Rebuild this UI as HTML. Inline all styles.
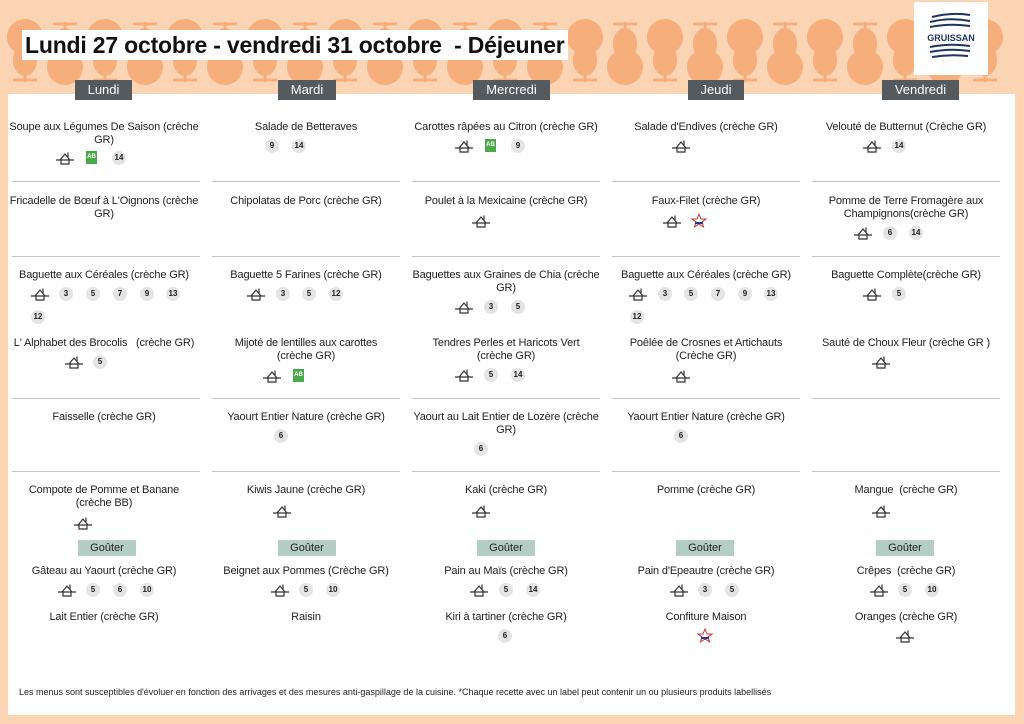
<!DOCTYPE html><html><head><meta charset="utf-8"><style>
body{margin:0;width:1024px;height:724px;background:#fbd4b3;position:relative;overflow:hidden;font-family:"Liberation Sans",sans-serif;color:#222}
.a{position:absolute}
.t{position:absolute;width:190px;margin-left:3px;text-align:center;font-size:11px;line-height:13px;letter-spacing:-0.15px}
.h{position:absolute;background:#555a5e;color:#fff;font-size:13px;text-align:center;height:20px;line-height:20px;top:80px}
.g{position:absolute;background:#b4cdc5;font-size:11px;text-align:center;width:58px;height:16px;line-height:16px;top:540px}
.l{position:absolute;height:1px;background:#c4c4c4;width:188px}
.b{position:absolute;width:14px;height:14px;border-radius:7px;background:#e4e4e4;font-size:8px;font-weight:bold;text-align:center;line-height:14px;margin:-7px 0 0 -7px}
.ab{position:absolute;width:11px;height:13px;background:#4aa84a;color:#fff;font-size:6px;font-weight:bold;text-align:center;line-height:13px;margin:-7px 0 0 -6px}
.hs{position:absolute;margin:-7px 0 0 -9px;width:18px;height:14px}
.lr{position:absolute;margin:-8px 0 0 -8px;width:16px;height:16px}
</style></head><body>
<svg class="a" style="left:0;top:0" width="1024" height="95">
<defs><g id="p"><circle cx="0" cy="15" r="18" fill="#f6ae7c"/><ellipse cx="0" cy="-8" rx="12" ry="16" fill="#f6ae7c"/><path d="M0 -22V-30M-12 -28H12" stroke="#f6ae7c" stroke-width="3"/></g></defs>
<g>
<use href="#p" x="25" y="52" transform="rotate(180 25 52)"/><use href="#p" x="65" y="52"/><use href="#p" x="105" y="52" transform="rotate(180 105 52)"/><use href="#p" x="145" y="52"/><use href="#p" x="185" y="52" transform="rotate(180 185 52)"/><use href="#p" x="225" y="52"/><use href="#p" x="265" y="52" transform="rotate(180 265 52)"/><use href="#p" x="305" y="52"/><use href="#p" x="345" y="52" transform="rotate(180 345 52)"/><use href="#p" x="385" y="52"/><use href="#p" x="425" y="52" transform="rotate(180 425 52)"/><use href="#p" x="465" y="52"/><use href="#p" x="505" y="52" transform="rotate(180 505 52)"/><use href="#p" x="545" y="52"/><use href="#p" x="585" y="52" transform="rotate(180 585 52)"/><use href="#p" x="625" y="52"/><use href="#p" x="665" y="52" transform="rotate(180 665 52)"/><use href="#p" x="705" y="52"/><use href="#p" x="745" y="52" transform="rotate(180 745 52)"/><use href="#p" x="785" y="52"/><use href="#p" x="825" y="52" transform="rotate(180 825 52)"/><use href="#p" x="865" y="52"/><use href="#p" x="905" y="52" transform="rotate(180 905 52)"/><use href="#p" x="945" y="52"/><use href="#p" x="985" y="52" transform="rotate(180 985 52)"/>
</g></svg>
<div class="a" style="left:22px;top:30px;width:546px;height:30px;background:#fff;font-size:23px;font-weight:bold;line-height:30px;padding-left:3px;box-sizing:border-box;color:#111;white-space:nowrap;overflow:hidden;letter-spacing:-0.2px">Lundi 27 octobre - vendredi 31 octobre&nbsp; - Déjeuner</div>
<div class="a" style="left:914px;top:2px;width:74px;height:73px;background:#fff"><svg width="74" height="73"><g stroke="#1f3560" stroke-width="2" fill="none"><path d="M18 15q20 -5 38 -2M16 20q20 -5 40 -1M16 25q20 -4 40 -1M16 45q20 -4 40 -1M16 50q20 -4 40 -1M18 55q18 -3 36 -1"/></g><text x="37" y="39" font-size="9" font-weight="bold" fill="#1f3560" text-anchor="middle" font-family="Liberation Sans">GRUISSAN</text></svg></div>
<div class="a" style="left:8px;top:94px;width:1007px;height:621px;background:#fff"></div>
<div class="h" style="left:75px;width:57px">Lundi</div>
<div class="h" style="left:278px;width:58px">Mardi</div>
<div class="h" style="left:473px;width:77px">Mercredi</div>
<div class="h" style="left:688px;width:56px">Jeudi</div>
<div class="h" style="left:882px;width:77px">Vendredi</div>
<div class="g" style="left:78px">Goûter</div><div class="g" style="left:278px">Goûter</div><div class="g" style="left:477px">Goûter</div><div class="g" style="left:676px">Goûter</div><div class="g" style="left:876px">Goûter</div>
<div class="l" style="left:12px;top:181px"></div><div class="l" style="left:12px;top:256px"></div><div class="l" style="left:12px;top:398px"></div><div class="l" style="left:12px;top:471px"></div>
<div class="l" style="left:212px;top:181px"></div><div class="l" style="left:212px;top:256px"></div><div class="l" style="left:212px;top:398px"></div><div class="l" style="left:212px;top:471px"></div>
<div class="l" style="left:412px;top:181px"></div><div class="l" style="left:412px;top:256px"></div><div class="l" style="left:412px;top:398px"></div><div class="l" style="left:412px;top:471px"></div>
<div class="l" style="left:612px;top:181px"></div><div class="l" style="left:612px;top:256px"></div><div class="l" style="left:612px;top:398px"></div><div class="l" style="left:612px;top:471px"></div>
<div class="l" style="left:812px;top:181px"></div><div class="l" style="left:812px;top:256px"></div><div class="l" style="left:812px;top:398px"></div><div class="l" style="left:812px;top:471px"></div>

<svg width="0" height="0" style="position:absolute"><defs><g id="hs"><path d="M0 9H18M4 9L9 3L14 9M5 9V13H13V9M12 6V1.5" stroke="#333" stroke-width="1.2" fill="none"/></g><g id="lr"><path d="M8 1L10 6H15L11 9L12.5 14L8 11L3.5 14L5 9L1 6H6Z" fill="#fff" stroke="#c33" stroke-width="1"/><path d="M4 10H12" stroke="#1f3a8a" stroke-width="2"/></g></defs></svg>

<!-- Lundi -->
<div class="t" style="left:6px;top:121px">Soupe aux Légumes De Saison (crèche GR)</div>
<svg class="hs" style="left:65px;top:158px"><use href="#hs"/></svg><div class="ab" style="left:92px;top:158px">AB</div><div class="b" style="left:119px;top:158px">14</div>
<div class="t" style="left:6px;top:195px">Fricadelle de Bœuf à L'Oignons (crèche GR)</div>
<div class="t" style="left:6px;top:269px">Baguette aux Céréales (crèche GR)</div>
<svg class="hs" style="left:40px;top:294px"><use href="#hs"/></svg><div class="b" style="left:66px;top:294px">3</div><div class="b" style="left:93px;top:294px">5</div><div class="b" style="left:120px;top:294px">7</div><div class="b" style="left:147px;top:294px">9</div><div class="b" style="left:173px;top:294px">13</div><div class="b" style="left:38px;top:317px">12</div>
<div class="t" style="left:6px;top:337px">L' Alphabet des Brocolis&nbsp;&nbsp; (crèche GR)</div>
<svg class="hs" style="left:74px;top:362px"><use href="#hs"/></svg><div class="b" style="left:100px;top:362px">5</div>
<div class="t" style="left:6px;top:411px">Faisselle (crèche GR)</div>
<div class="t" style="left:6px;top:484px">Compote de Pomme et Banane<br>(crèche BB)</div>
<svg class="hs" style="left:83px;top:523px"><use href="#hs"/></svg>
<div class="t" style="left:6px;top:565px">Gâteau au Yaourt (crèche GR)</div>
<svg class="hs" style="left:67px;top:590px"><use href="#hs"/></svg><div class="b" style="left:93px;top:590px">5</div><div class="b" style="left:120px;top:590px">6</div><div class="b" style="left:147px;top:590px">10</div>
<div class="t" style="left:6px;top:611px">Lait Entier (crèche GR)</div>

<!-- Mardi -->
<div class="t" style="left:208px;top:121px">Salade de Betteraves</div>
<div class="b" style="left:272px;top:146px">9</div><div class="b" style="left:299px;top:146px">14</div>
<div class="t" style="left:208px;top:195px">Chipolatas de Porc (crèche GR)</div>
<div class="t" style="left:208px;top:269px">Baguette 5 Farines (crèche GR)</div>
<svg class="hs" style="left:256px;top:294px"><use href="#hs"/></svg><div class="b" style="left:283px;top:294px">3</div><div class="b" style="left:309px;top:294px">5</div><div class="b" style="left:336px;top:294px">12</div>
<div class="t" style="left:208px;top:337px">Mijoté de lentilles aux carottes<br>(crèche GR)</div>
<svg class="hs" style="left:272px;top:376px"><use href="#hs"/></svg><div class="ab" style="left:299px;top:376px">AB</div>
<div class="t" style="left:208px;top:411px">Yaourt Entier Nature (crèche GR)</div>
<div class="b" style="left:281px;top:436px">6</div>
<div class="t" style="left:208px;top:484px">Kiwis Jaune (crèche GR)</div>
<svg class="hs" style="left:282px;top:511px"><use href="#hs"/></svg>
<div class="t" style="left:208px;top:565px">Beignet aux Pommes (Crèche GR)</div>
<svg class="hs" style="left:280px;top:590px"><use href="#hs"/></svg><div class="b" style="left:306px;top:590px">5</div><div class="b" style="left:333px;top:590px">10</div>
<div class="t" style="left:208px;top:611px">Raisin</div>

<!-- Mercredi -->
<div class="t" style="left:408px;top:121px">Carottes râpées au Citron (crèche GR)</div>
<svg class="hs" style="left:464px;top:146px"><use href="#hs"/></svg><div class="ab" style="left:491px;top:146px">AB</div><div class="b" style="left:518px;top:146px">9</div>
<div class="t" style="left:408px;top:195px">Poulet à la Mexicaine (crèche GR)</div>
<svg class="hs" style="left:481px;top:221px"><use href="#hs"/></svg>
<div class="t" style="left:408px;top:269px">Baguettes aux Graines de Chia (crèche GR)</div>
<svg class="hs" style="left:464px;top:307px"><use href="#hs"/></svg><div class="b" style="left:491px;top:307px">3</div><div class="b" style="left:518px;top:307px">5</div>
<div class="t" style="left:408px;top:337px">Tendres Perles et Haricots Vert<br>(crèche GR)</div>
<svg class="hs" style="left:464px;top:375px"><use href="#hs"/></svg><div class="b" style="left:491px;top:375px">5</div><div class="b" style="left:518px;top:375px">14</div>
<div class="t" style="left:408px;top:411px">Yaourt au Lait Entier de Lozère (crèche GR)</div>
<div class="b" style="left:481px;top:449px">6</div>
<div class="t" style="left:408px;top:484px">Kaki (crèche GR)</div>
<svg class="hs" style="left:481px;top:511px"><use href="#hs"/></svg>
<div class="t" style="left:408px;top:565px">Pain au Maïs (crèche GR)</div>
<svg class="hs" style="left:479px;top:590px"><use href="#hs"/></svg><div class="b" style="left:506px;top:590px">5</div><div class="b" style="left:533px;top:590px">14</div>
<div class="t" style="left:408px;top:611px">Kiri à tartiner (crèche GR)</div>
<div class="b" style="left:505px;top:636px">6</div>

<!-- Jeudi -->
<div class="t" style="left:608px;top:121px">Salade d'Endives (crèche GR)</div>
<svg class="hs" style="left:681px;top:146px"><use href="#hs"/></svg>
<div class="t" style="left:608px;top:195px">Faux-Filet (crèche GR)</div>
<svg class="hs" style="left:672px;top:221px"><use href="#hs"/></svg><svg class="lr" style="left:699px;top:221px"><use href="#lr"/></svg>
<div class="t" style="left:608px;top:269px">Baguette aux Céréales (crèche GR)</div>
<svg class="hs" style="left:638px;top:294px"><use href="#hs"/></svg><div class="b" style="left:665px;top:294px">3</div><div class="b" style="left:691px;top:294px">5</div><div class="b" style="left:718px;top:294px">7</div><div class="b" style="left:745px;top:294px">9</div><div class="b" style="left:771px;top:294px">13</div><div class="b" style="left:637px;top:317px">12</div>
<div class="t" style="left:608px;top:337px">Poêlée de Crosnes et Artichauts<br>(Crèche GR)</div>
<svg class="hs" style="left:681px;top:376px"><use href="#hs"/></svg>
<div class="t" style="left:608px;top:411px">Yaourt Entier Nature (crèche GR)</div>
<div class="b" style="left:681px;top:436px">6</div>
<div class="t" style="left:608px;top:484px">Pomme (crèche GR)</div>
<div class="t" style="left:608px;top:565px">Pain d'Epeautre (crèche GR)</div>
<svg class="hs" style="left:679px;top:590px"><use href="#hs"/></svg><div class="b" style="left:705px;top:590px">3</div><div class="b" style="left:732px;top:590px">5</div>
<div class="t" style="left:608px;top:611px">Confiture Maison</div>
<svg class="lr" style="left:705px;top:636px"><use href="#lr"/></svg>

<!-- Vendredi -->
<div class="t" style="left:808px;top:121px">Velouté de Butternut (Crèche GR)</div>
<svg class="hs" style="left:872px;top:146px"><use href="#hs"/></svg><div class="b" style="left:899px;top:146px">14</div>
<div class="t" style="left:808px;top:195px">Pomme de Terre Fromagère aux Champignons(crèche GR)</div>
<svg class="hs" style="left:863px;top:233px"><use href="#hs"/></svg><div class="b" style="left:890px;top:233px">6</div><div class="b" style="left:916px;top:233px">14</div>
<div class="t" style="left:808px;top:269px">Baguette Complète(crèche GR)</div>
<svg class="hs" style="left:872px;top:294px"><use href="#hs"/></svg><div class="b" style="left:899px;top:294px">5</div>
<div class="t" style="left:808px;top:337px">Sauté de Choux Fleur (crèche GR )</div>
<svg class="hs" style="left:881px;top:362px"><use href="#hs"/></svg>
<div class="t" style="left:808px;top:484px">Mangue&nbsp; (crèche GR)</div>
<svg class="hs" style="left:881px;top:511px"><use href="#hs"/></svg>
<div class="t" style="left:808px;top:565px">Crêpes&nbsp; (crèche GR)</div>
<svg class="hs" style="left:879px;top:590px"><use href="#hs"/></svg><div class="b" style="left:905px;top:590px">5</div><div class="b" style="left:932px;top:590px">10</div>
<div class="t" style="left:808px;top:611px">Oranges (crèche GR)</div>
<svg class="hs" style="left:905px;top:636px"><use href="#hs"/></svg>

<div class="a" style="left:19px;top:687px;font-size:9px;white-space:nowrap">Les menus sont susceptibles d'évoluer en fonction des arrivages et des mesures anti-gaspillage de la cuisine. *Chaque recette avec un label peut contenir un ou plusieurs produits labellisés</div>
</body></html>
